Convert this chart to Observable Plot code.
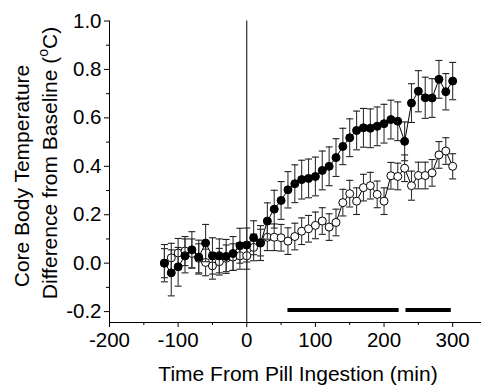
<!DOCTYPE html>
<html>
<head>
<meta charset="utf-8">
<script src="https://cdn.jsdelivr.net/npm/d3@7"></script>
<script src="https://cdn.jsdelivr.net/npm/@observablehq/plot@0.6"></script>
<style>
  html, body { margin: 0; padding: 0; background: white; }
</style>
</head>
<body>
<div id="chart"></div>
<script>
// Time points (min)
const times = [-120,-110,-100,-90,-80,-70,-60,-50,-40,-30,-20,-10,0,10,20,30,40,50,60,70,80,90,100,110,120,130,140,150,160,170,180,190,200,210,220,230,240,250,260,270,280,290,300];
// Filled series (mean, SEM)
const filledMean = [0.00,-0.04,-0.015,0.03,0.055,0.025,0.083,0.03,0.03,0.028,0.04,0.072,0.075,0.105,0.083,0.174,0.223,0.259,0.303,0.328,0.345,0.35,0.358,0.383,0.40,0.436,0.482,0.518,0.548,0.559,0.557,0.565,0.576,0.593,0.586,0.503,0.661,0.71,0.683,0.682,0.759,0.708,0.752];
const filledErr  = [0.077,0.095,0.08,0.07,0.075,0.07,0.077,0.075,0.07,0.07,0.07,0.072,0.07,0.07,0.072,0.075,0.078,0.078,0.075,0.078,0.08,0.08,0.08,0.08,0.08,0.078,0.075,0.078,0.08,0.08,0.08,0.08,0.08,0.08,0.08,0.08,0.08,0.085,0.085,0.08,0.078,0.075,0.077];
// Open series (mean, SEM)
const openMean = [0.00,0.022,0.042,0.05,0.04,0.02,0.003,-0.011,0.006,0.02,0.025,0.03,0.03,0.065,0.085,0.107,0.107,0.105,0.091,0.11,0.132,0.142,0.156,0.174,0.149,0.168,0.25,0.287,0.256,0.312,0.32,0.284,0.256,0.361,0.358,0.392,0.32,0.362,0.362,0.373,0.447,0.463,0.40];
const openErr  = [0.06,0.06,0.06,0.06,0.06,0.06,0.055,0.055,0.055,0.055,0.055,0.055,0.055,0.055,0.055,0.055,0.055,0.055,0.055,0.055,0.055,0.055,0.055,0.055,0.055,0.055,0.055,0.055,0.055,0.055,0.055,0.055,0.055,0.055,0.055,0.055,0.06,0.055,0.055,0.055,0.055,0.055,0.052];
// Horizontal bars near the bottom (start, end, level)
const barStart = [60, 232];
const barEnd = [222, 298];
const barLevel = -0.193;
// Ticks
const yMajor = [-0.2, 0.0, 0.2, 0.4, 0.6, 0.8, 1.0];
const yMinor = [-0.1, 0.1, 0.3, 0.5, 0.7, 0.9];
const xMajor = [-200, -100, 0, 100, 200, 300];
const xMinor = [-150, -50, 50, 150, 250];
const xDomain = [-200, 342];
const yDomain = [-0.245, 1.0];

const filled = times.map((t, i) => ({t, v: filledMean[i], e: filledErr[i]}));
const open = times.map((t, i) => ({t, v: openMean[i], e: openErr[i]}));
const bars = barStart.map((s, i) => ({x1: s, x2: barEnd[i], y: barLevel}));

const cap = { draw(ctx) { ctx.moveTo(-3.5, 0); ctx.lineTo(3.5, 0); } };

function seriesMarks(data, fill) {
  return [
    Plot.ruleX(data, {x: "t", y1: d => d.v - d.e, y2: d => d.v + d.e, stroke: "#333", strokeWidth: 1.1}),
    Plot.dot(data, {x: "t", y: d => d.v + d.e, symbol: cap, r: 4, stroke: "#222", fill: "none", strokeWidth: 1.1}),
    Plot.dot(data, {x: "t", y: d => d.v - d.e, symbol: cap, r: 4, stroke: "#222", fill: "none", strokeWidth: 1.1}),
    Plot.line(data, {x: "t", y: "v", stroke: "black", strokeWidth: 1}),
    Plot.dot(data, {x: "t", y: "v", r: 4, fill, stroke: "black", strokeWidth: 1})
  ];
}

const chart = Plot.plot({
  width: 483,
  height: 388,
  marginLeft: 109,
  marginRight: 2,
  marginTop: 20.5,
  marginBottom: 66,
  style: {fontFamily: "'Liberation Sans', Arial, sans-serif", fontSize: "20px", background: "white", color: "black"},
  x: {domain: xDomain},
  y: {domain: yDomain},
  marks: [
    Plot.ruleX([0], {stroke: "black", strokeWidth: 1}),
    ...seriesMarks(open, "white"),
    ...seriesMarks(filled, "black"),
    Plot.ruleY(bars, {x1: "x1", x2: "x2", y: "y", stroke: "black", strokeWidth: 4}),
    Plot.axisY({ticks: yMajor, tickFormat: d => d.toFixed(1), tickSize: 5, tickPadding: 3, label: null, fontSize: 20.5}),
    Plot.axisY({ticks: yMinor, tickSize: 3, text: null, label: null}),
    Plot.axisX({ticks: xMajor, tickFormat: d => String(d), tickSize: 5, tickPadding: 5, label: null, fontSize: 20.5}),
    Plot.axisX({ticks: xMinor, tickSize: 3, text: null, label: null}),
    Plot.ruleX([xDomain[0]], {stroke: "black"}),
    Plot.ruleY([yDomain[0]], {stroke: "black"})
  ]
});

const svg = d3.select(chart);
svg.append("text")
  .attr("x", 298).attr("y", 381)
  .attr("text-anchor", "middle")
  .attr("font-size", 21)
  .attr("fill", "black")
  .text("Time From Pill Ingestion (min)");

svg.append("text")
  .attr("transform", "translate(29,176) rotate(-90)")
  .attr("text-anchor", "middle")
  .attr("font-size", 21)
  .attr("fill", "black")
  .text("Core Body Temperature");

const t2 = svg.append("text")
  .attr("transform", "translate(57,163) rotate(-90)")
  .attr("text-anchor", "middle")
  .attr("font-size", 21)
  .attr("fill", "black");
t2.append("tspan").text("Difference from Baseline (");
t2.append("tspan").attr("font-size", 14).attr("dy", -9).text("o");
t2.append("tspan").attr("dy", 9).text("C)");

document.getElementById("chart").appendChild(chart);
</script>
</body>
</html>
